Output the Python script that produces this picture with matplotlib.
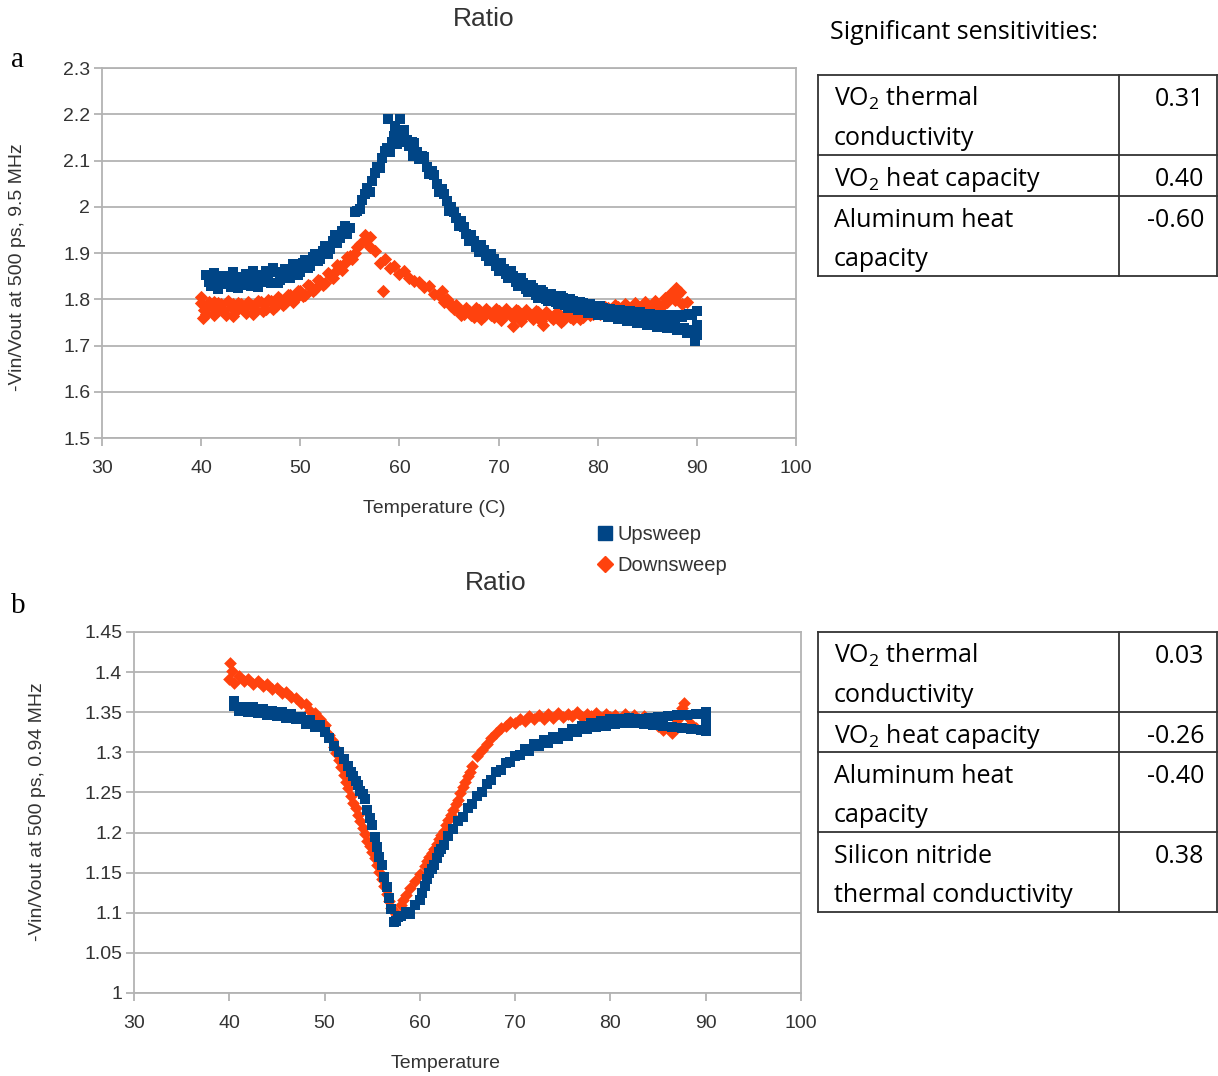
import matplotlib
matplotlib.use("Agg")
import matplotlib.pyplot as plt
from matplotlib.lines import Line2D

# ---- data: panel a (9.5 MHz) ----
up_a_t = [40.5, 41, 41.5, 42, 42.5, 43, 43.5, 44, 44.5, 45,
          45.5, 46, 46.5, 47, 47.5, 48, 48.5, 49, 49.5, 50,
          50.5, 51, 51.5, 52, 52.5, 53, 53.5, 54, 54.5, 55,
          55.5, 56, 56.5, 57, 57.5, 58, 58.5, 59, 59.5, 60,
          60.5, 61, 61.5, 62, 62.5, 63, 63.5, 64, 64.5, 65,
          65.5, 66, 66.5, 67, 67.5, 68, 68.5, 69, 69.5, 70,
          70.5, 71, 71.5, 72, 72.5, 73, 73.5, 74, 74.5, 75,
          75.5, 76, 76.5, 77, 77.5, 78, 78.5, 79, 79.5, 80,
          80.5, 81, 81.5, 82, 82.5, 83, 83.5, 84, 84.5, 85,
          85.5, 86, 86.5, 87, 87.5, 88, 88.5, 89, 89.5, 90,
          55.75, 56.25, 56.75, 57.25, 57.75, 58.25, 58.75, 59.25, 59.75, 60.25,
          60.75, 61.25, 61.75, 62.25, 62.75, 63.25, 63.75, 64.25, 64.75, 65.25,
          58.8, 60.1, 59.6, 61.4, 90, 90, 89.8, 42.0, 44.2, 46.3]
up_a_v = [1.852, 1.828, 1.845, 1.833, 1.851, 1.826, 1.843, 1.836, 1.855, 1.829,
          1.847, 1.838, 1.861, 1.835, 1.858, 1.842, 1.866, 1.846, 1.872, 1.858,
          1.884, 1.871, 1.897, 1.888, 1.915, 1.908, 1.938, 1.932, 1.958, 1.955,
          1.988, 1.996, 2.028, 2.031, 2.072, 2.083, 2.121, 2.118, 2.152, 2.141,
          2.166, 2.132, 2.138, 2.104, 2.108, 2.071, 2.068, 2.032, 2.028, 1.991,
          1.988, 1.958, 1.956, 1.927, 1.926, 1.902, 1.906, 1.882, 1.886, 1.862,
          1.866, 1.846, 1.851, 1.829, 1.836, 1.815, 1.824, 1.803, 1.815, 1.796,
          1.808, 1.789, 1.803, 1.782, 1.797, 1.776, 1.792, 1.771, 1.786, 1.766,
          1.782, 1.762, 1.777, 1.758, 1.774, 1.753, 1.771, 1.749, 1.768, 1.745,
          1.765, 1.741, 1.763, 1.738, 1.761, 1.733, 1.762, 1.728, 1.765, 1.722,
          1.990, 2.015, 2.040, 2.055, 2.085, 2.105, 2.128, 2.140, 2.135, 2.158,
          2.145, 2.140, 2.118, 2.110, 2.085, 2.078, 2.050, 2.038, 2.012, 2.000,
          2.190, 2.190, 2.175, 2.110, 1.775, 1.745, 1.710, 1.850, 1.830, 1.852]

# in-between upsweep readings (flat start and long tail)
up_a_t2 = [40.75, 41.25, 41.75, 42.25, 42.75, 43.25, 43.75, 44.25, 44.75, 45.25,
           45.75, 46.25, 46.75, 47.25, 47.75, 48.25, 48.75, 49.25, 49.75, 50.25,
           50.75, 51.25, 51.75, 52.25, 52.75, 53.25, 53.75, 54.25, 54.75,
           65.75, 66.25, 66.75, 67.25, 67.75, 68.25, 68.75, 69.25, 69.75, 70.25,
           70.75, 71.25, 71.75, 72.25, 72.75, 73.25, 73.75, 74.25, 74.75, 75.25,
           75.75, 76.25, 76.75, 77.25, 77.75, 78.25, 78.75, 79.25, 79.75, 80.25,
           80.75, 81.25, 81.75, 82.25, 82.75, 83.25, 83.75, 84.25, 84.75, 85.25,
           85.75, 86.25, 86.75, 87.25, 87.75, 88.25, 88.75, 89.25, 89.75]
up_a_v2 = [1.838, 1.857, 1.822, 1.846, 1.835, 1.858, 1.824, 1.849, 1.838, 1.862,
           1.827, 1.853, 1.843, 1.868, 1.836, 1.858, 1.852, 1.876, 1.853, 1.878,
           1.868, 1.892, 1.882, 1.905, 1.897, 1.927, 1.921, 1.948, 1.942,
           1.975, 1.970, 1.942, 1.938, 1.913, 1.918, 1.893, 1.897, 1.872, 1.878,
           1.855, 1.862, 1.838, 1.845, 1.822, 1.830, 1.810, 1.820, 1.800, 1.812,
           1.794, 1.806, 1.788, 1.800, 1.782, 1.795, 1.776, 1.790, 1.772, 1.785,
           1.768, 1.780, 1.763, 1.777, 1.759, 1.774, 1.755, 1.772, 1.751, 1.769,
           1.748, 1.767, 1.744, 1.766, 1.740, 1.766, 1.737, 1.768, 1.733]

down_a_t = [40, 40.5, 41, 41.5, 42, 42.5, 43, 43.5, 44, 44.5,
            45, 45.5, 46, 46.5, 47, 47.5, 48, 48.5, 49, 49.5,
            50, 50.5, 51, 51.5, 52, 52.5, 53, 53.5, 54, 54.5,
            55, 55.5, 56, 56.5, 57, 57.5, 58, 58.5, 59, 59.5,
            60, 60.5, 61, 61.5, 62, 62.5, 63, 63.5, 64, 64.5,
            65, 65.5, 66, 66.5, 67, 67.5, 68, 68.5, 69, 69.5,
            70, 70.5, 71, 71.5, 72, 72.5, 73, 73.5, 74, 74.5,
            75, 75.5, 76, 76.5, 77, 77.5, 78, 78.5, 79, 79.5,
            80, 80.5, 81, 81.5, 82, 82.5, 83, 83.5, 84, 84.5,
            85, 85.5, 86, 86.5, 87, 87.5, 88, 88.5, 89,
            58.3, 57.0, 56.5, 87.9, 71.5, 74.5, 40.0, 40.2, 41.3, 43.2]
down_a_v = [1.792, 1.768, 1.785, 1.772, 1.789, 1.767, 1.784, 1.774, 1.790, 1.770,
            1.787, 1.776, 1.793, 1.780, 1.797, 1.786, 1.801, 1.792, 1.809, 1.800,
            1.817, 1.810, 1.828, 1.822, 1.840, 1.835, 1.853, 1.858, 1.872, 1.878,
            1.893, 1.900, 1.920, 1.928, 1.914, 1.905, 1.878, 1.888, 1.868, 1.872,
            1.855, 1.862, 1.846, 1.840, 1.838, 1.826, 1.828, 1.812, 1.809, 1.795,
            1.793, 1.780, 1.776, 1.768, 1.774, 1.762, 1.776, 1.764, 1.773, 1.761,
            1.775, 1.763, 1.772, 1.760, 1.774, 1.762, 1.771, 1.758, 1.773, 1.761,
            1.768, 1.757, 1.770, 1.755, 1.766, 1.757, 1.769, 1.762, 1.772, 1.768,
            1.777, 1.772, 1.781, 1.775, 1.783, 1.778, 1.785, 1.779, 1.786, 1.781,
            1.787, 1.783, 1.790, 1.786, 1.795, 1.805, 1.810, 1.790, 1.795,
            1.818, 1.935, 1.940, 1.825, 1.742, 1.745, 1.805, 1.760, 1.795, 1.790]

# in-between downsweep readings
down_a_t2 = [40.25, 40.75, 41.25, 41.75, 42.25, 42.75, 43.25, 43.75, 44.25, 44.75,
             45.25, 45.75, 46.25, 46.75, 47.25, 47.75, 48.25, 48.75, 49.25, 49.75,
             50.25, 50.75, 51.25, 51.75, 52.25, 52.75, 53.25, 53.75, 54.25, 54.75,
             55.25, 55.75,
             64.25, 64.75, 65.25, 65.75, 66.25, 66.75, 67.25, 67.75, 68.25, 68.75,
             69.25, 69.75, 70.25, 70.75, 71.25, 71.75, 72.25, 72.75, 73.25, 73.75,
             74.25, 74.75, 75.25, 75.75, 76.25, 76.75, 77.25, 77.75, 78.25, 78.75,
             79.25, 79.75, 80.25, 80.75, 81.25, 81.75, 82.25, 82.75, 83.25, 83.75,
             84.25, 84.75, 85.25, 85.75, 86.25, 86.75, 87.25, 87.75, 88.25]
down_a_v2 = [1.776, 1.795, 1.765, 1.792, 1.776, 1.796, 1.764, 1.791, 1.778, 1.794,
             1.768, 1.797, 1.775, 1.799, 1.779, 1.804, 1.788, 1.810, 1.795, 1.818,
             1.806, 1.830, 1.818, 1.842, 1.830, 1.856, 1.846, 1.874, 1.864, 1.892,
             1.888, 1.912,
             1.818, 1.800, 1.786, 1.787, 1.765, 1.782, 1.766, 1.781, 1.757, 1.780,
             1.765, 1.779, 1.756, 1.778, 1.766, 1.777, 1.754, 1.776, 1.764, 1.775,
             1.753, 1.772, 1.762, 1.771, 1.751, 1.769, 1.762, 1.772, 1.758, 1.775,
             1.766, 1.779, 1.768, 1.784, 1.772, 1.787, 1.775, 1.789, 1.776, 1.791,
             1.777, 1.793, 1.779, 1.796, 1.784, 1.802, 1.812, 1.798, 1.815]

# ---- data: panel b (0.94 MHz) ----
up_b_t = [40.5, 41, 41.5, 42, 42.5, 43, 43.5, 44, 44.5, 45,
          45.5, 46, 46.5, 47, 47.5, 48, 48.5, 49, 49.5, 50,
          50.5, 51, 51.5, 52, 52.5, 53, 53.5, 54, 54.5, 55,
          55.5, 56, 56.5, 57, 57.5, 58, 58.5, 59, 59.5, 60,
          60.5, 61, 61.5, 62, 62.5, 63, 63.5, 64, 64.5, 65,
          65.5, 66, 66.5, 67, 67.5, 68, 68.5, 69, 69.5, 70,
          70.5, 71, 71.5, 72, 72.5, 73, 73.5, 74, 74.5, 75,
          75.5, 76, 76.5, 77, 77.5, 78, 78.5, 79, 79.5, 80,
          80.5, 81, 81.5, 82, 82.5, 83, 83.5, 84, 84.5, 85,
          85.5, 86, 86.5, 87, 87.5, 88, 88.5, 89, 89.5, 90,
          52.75, 53.25, 53.75, 54.25, 54.75, 55.25, 55.75, 56.25, 56.75, 57.25,
          57.75, 60.25, 60.75, 61.25, 61.75, 62.25, 90, 90, 40.5]
up_b_v = [1.358, 1.351, 1.357, 1.350, 1.356, 1.349, 1.354, 1.347, 1.352, 1.345,
          1.350, 1.343, 1.348, 1.341, 1.344, 1.335, 1.340, 1.331, 1.334, 1.325,
          1.318, 1.308, 1.301, 1.292, 1.283, 1.270, 1.259, 1.248, 1.228, 1.210,
          1.182, 1.160, 1.132, 1.105, 1.090, 1.096, 1.101, 1.098, 1.110, 1.116,
          1.133, 1.150, 1.160, 1.176, 1.184, 1.196, 1.204, 1.214, 1.220, 1.231,
          1.236, 1.246, 1.250, 1.261, 1.265, 1.275, 1.278, 1.287, 1.288, 1.296,
          1.297, 1.304, 1.302, 1.310, 1.308, 1.315, 1.312, 1.319, 1.316, 1.324,
          1.320, 1.329, 1.325, 1.333, 1.329, 1.336, 1.331, 1.339, 1.333, 1.341,
          1.335, 1.342, 1.336, 1.343, 1.336, 1.342, 1.335, 1.343, 1.334, 1.344,
          1.333, 1.345, 1.331, 1.346, 1.330, 1.347, 1.329, 1.348, 1.328, 1.338,
          1.276, 1.264, 1.252, 1.242, 1.218, 1.195, 1.170, 1.145, 1.118, 1.088,
          1.095, 1.125, 1.142, 1.155, 1.168, 1.180, 1.350, 1.326, 1.364]

down_b_t = [40, 40.5, 41, 41.5, 42, 42.5, 43, 43.5, 44, 44.5,
            45, 45.5, 46, 46.5, 47, 47.5, 48, 48.5, 49, 49.5,
            50, 50.5, 51, 51.5, 52, 52.5, 53, 53.5, 54, 54.5,
            55, 55.5, 56, 56.5, 57, 57.5, 58, 58.5, 59, 59.5,
            60, 60.5, 61, 61.5, 62, 62.5, 63, 63.5, 64, 64.5,
            65, 65.5, 66, 66.5, 67, 67.5, 68, 68.5, 69, 69.5,
            70, 70.5, 71, 71.5, 72, 72.5, 73, 73.5, 74, 74.5,
            75, 75.5, 76, 76.5, 77, 77.5, 78, 78.5, 79, 79.5,
            80, 80.5, 81, 81.5, 82, 82.5, 83, 83.5, 84, 84.5,
            85, 85.5, 86, 86.5, 87, 87.5, 88, 88.5, 89,
            50.75, 51.25, 51.75, 52.25, 52.75, 53.25, 53.75, 54.25, 54.75, 55.25,
            55.75, 56.25, 56.75, 57.25, 58.25, 60.75, 61.25, 61.75, 62.25, 62.75,
            63.25, 63.75, 64.25, 64.75, 65.25, 40.1, 40.3, 87.7]
down_b_v = [1.392, 1.386, 1.395, 1.389, 1.391, 1.385, 1.389, 1.383, 1.385, 1.379,
            1.380, 1.374, 1.375, 1.369, 1.368, 1.361, 1.360, 1.352, 1.349, 1.341,
            1.334, 1.322, 1.307, 1.291, 1.272, 1.255, 1.237, 1.222, 1.206, 1.190,
            1.176, 1.160, 1.142, 1.124, 1.106, 1.099, 1.110, 1.122, 1.131, 1.140,
            1.148, 1.158, 1.170, 1.180, 1.192, 1.202, 1.216, 1.228, 1.241, 1.257,
            1.270, 1.283, 1.295, 1.303, 1.311, 1.318, 1.324, 1.330, 1.333, 1.338,
            1.336, 1.342, 1.339, 1.345, 1.341, 1.347, 1.342, 1.348, 1.343, 1.349,
            1.344, 1.348, 1.345, 1.350, 1.344, 1.348, 1.345, 1.349, 1.343, 1.348,
            1.344, 1.347, 1.342, 1.348, 1.343, 1.346, 1.341, 1.345, 1.340, 1.336,
            1.333, 1.328, 1.330, 1.324, 1.340, 1.355, 1.345, 1.335, 1.330,
            1.315, 1.299, 1.282, 1.263, 1.246, 1.230, 1.214, 1.198, 1.183, 1.168,
            1.151, 1.133, 1.115, 1.102, 1.116, 1.164, 1.175, 1.186, 1.197, 1.209,
            1.222, 1.235, 1.249, 1.263, 1.276, 1.411, 1.401, 1.362]

series_labels = ["Upsweep", "Downsweep"]

VO2 = "VO$\\mathregular{_2}$"
table_a_rows = [([VO2 + " thermal", "conductivity"], "0.31"),
                ([VO2 + " heat capacity"], "0.40"),
                (["Aluminum heat", "capacity"], "-0.60")]
table_b_rows = [([VO2 + " thermal", "conductivity"], "0.03"),
                ([VO2 + " heat capacity"], "-0.26"),
                (["Aluminum heat", "capacity"], "-0.40"),
                (["Silicon nitride", "thermal conductivity"], "0.38")]

BLUE = "#004586"
ORANGE = "#ff420e"
GRID = "#b3b3b3"
TXT = "#333333"

W, H = 1218, 1076
plt.rcParams["font.family"] = ["Liberation Sans", "DejaVu Sans"]
fig = plt.figure(figsize=(W / 100, H / 100), dpi=100)


def px_rect(left, top, right, bottom):
    return [left / W, 1 - bottom / H, (right - left) / W, (bottom - top) / H]


def fmt(v):
    return f"{v:.2f}".rstrip("0").rstrip(".")


def style_axes(ax, ylim, yticks):
    ax.set_xlim(30, 100)
    ax.set_xticks(range(30, 101, 10))
    ax.set_ylim(*ylim)
    ax.set_yticks(yticks)
    ax.set_yticklabels([fmt(v) for v in yticks])
    ax.grid(axis="y", color=GRID, lw=1.3)
    ax.set_axisbelow(True)
    for s in ax.spines.values():
        s.set_color(GRID)
        s.set_linewidth(1.3)
    ax.tick_params(colors=GRID, labelcolor=TXT, labelsize=14, length=5.5,
                   width=1.3)
    ax.tick_params(axis="x", pad=10)
    ax.tick_params(axis="y", pad=3)


# panel a
ax1 = fig.add_axes(px_rect(102, 68, 796, 438))
ax1.scatter(down_a_t + down_a_t2, down_a_v + down_a_v2, marker="D", s=46,
            color=ORANGE, lw=0, zorder=2)
ax1.scatter(up_a_t + up_a_t2, up_a_v + up_a_v2, marker="s", s=58,
            color=BLUE, lw=0, zorder=3)
style_axes(ax1, (1.5, 2.3), [1.5 + 0.1 * i for i in range(9)])

# panel b
ax2 = fig.add_axes(px_rect(134, 632, 801, 993))
ax2.scatter(down_b_t, down_b_v, marker="D", s=42, color=ORANGE, lw=0, zorder=2)
ax2.scatter(up_b_t, up_b_v, marker="s", s=58, color=BLUE, lw=0, zorder=3)
style_axes(ax2, (1.0, 1.45), [1.0 + 0.05 * i for i in range(10)])

# titles and axis labels
fig.text(484 / W, 1 - 19 / H, "Ratio", ha="center", va="center", fontsize=19, color=TXT)
fig.text(496 / W, 1 - 583 / H, "Ratio", ha="center", va="center", fontsize=19, color=TXT)
fig.text(434 / W, 1 - 508 / H, "Temperature (C)", ha="center", va="center", fontsize=14, color=TXT)
fig.text(446 / W, 1 - 1063 / H, "Temperature", ha="center", va="center", fontsize=14, color=TXT)
fig.text(18 / W, 1 - 267 / H, "-Vin/Vout at 500 ps, 9.5 MHz", rotation=90,
         ha="center", va="center", fontsize=14, color=TXT)
fig.text(38 / W, 1 - 812 / H, "-Vin/Vout at 500 ps, 0.94 MHz", rotation=90,
         ha="center", va="center", fontsize=14, color=TXT)
fig.text(18 / W, 1 - 60 / H, "a", ha="center", va="center", fontsize=21,
         family="Liberation Serif", color="black")
fig.text(18 / W, 1 - 606 / H, "b", ha="center", va="center", fontsize=21,
         family="Liberation Serif", color="black")

# legend
handles = [Line2D([], [], marker="s", ls="", color=BLUE, markersize=9.5),
           Line2D([], [], marker="D", ls="", color=ORANGE, markersize=8)]
fig.legend(handles, series_labels, loc="upper left",
           bbox_to_anchor=(597 / W, 1 - 525 / H), frameon=False,
           fontsize=14.5, handlelength=0.8, handletextpad=0.2,
           labelspacing=0.6, borderpad=0, borderaxespad=0,
           labelcolor=TXT)

# sensitivity tables
TFONT = ["Open Sans", "DejaVu Sans"]
TSIZE = 18
fig.text(830 / W, 1 - 39 / H, "Significant sensitivities:", ha="left", va="baseline",
         fontsize=TSIZE, family=TFONT, color="black")


def draw_table(top, row_bottoms, rows, x0=818, xm=1119, x1=1217):
    def hline(y):
        fig.add_artist(Line2D([x0 / W, x1 / W], [1 - y / H, 1 - y / H],
                              color="#333333", lw=1.3))

    def vline(x, ya, yb):
        fig.add_artist(Line2D([x / W, x / W], [1 - ya / H, 1 - yb / H],
                              color="#333333", lw=1.3))

    hline(top)
    prev = top
    for yb, (lines, val) in zip(row_bottoms, rows):
        hline(yb)
        for i, line in enumerate(lines):
            base = prev + 31 + 39 * i
            fig.text(834 / W, 1 - base / H, line, ha="left", va="baseline",
                     fontsize=TSIZE, family=TFONT, color="black")
        fig.text(1204 / W, 1 - (prev + 31) / H, val, ha="right", va="baseline",
                 fontsize=TSIZE, family=TFONT, color="black")
        prev = yb
    for x in (x0, xm, x1):
        vline(x, top, row_bottoms[-1])


draw_table(75, [155, 196, 276], table_a_rows)
draw_table(632, [712, 752, 832, 912], table_b_rows)

fig.savefig("out.png", dpi=100)
